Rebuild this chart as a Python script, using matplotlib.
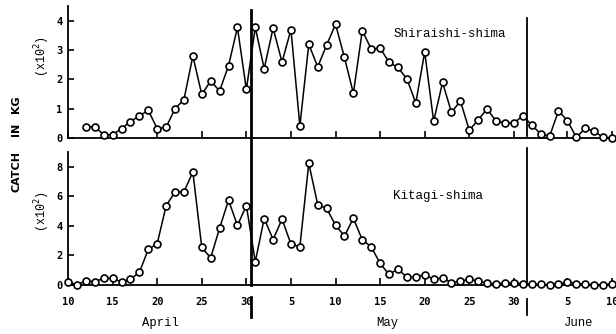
import matplotlib
matplotlib.use("Agg")
import matplotlib.pyplot as plt

# day number counted from April 10 (Apr 10 = 0, May 1 = 21, Jun 1 = 52)
top_days = list(range(2, 62))
bottom_days = list(range(0, 62))

# Shiraishi-shima catch (x100 kg), Apr 12 - Jun 10
shiraishi = [0.37, 0.40, 0.12, 0.12, 0.33, 0.57, 0.76, 0.95, 0.33, 0.37,
             1.01, 1.31, 2.80, 1.49, 1.95, 1.61, 2.47, 3.77, 1.66,
             3.77, 2.37, 3.75, 2.59, 3.70, 0.42, 3.20, 2.43, 3.17, 3.88,
             2.75, 1.53, 3.66, 3.04, 3.07, 2.58, 2.41, 2.02, 1.20, 2.94,
             0.58, 1.90, 0.88, 1.27, 0.27, 0.63, 1.00, 0.58, 0.53, 0.51, 0.77,
             0.45, 0.15, 0.07, 0.93, 0.60, 0.03, 0.34, 0.24, 0.03, 0.0]

# Kitagi-shima catch (x100 kg), Apr 10 - Jun 10
kitagi = [0.18, 0.0, 0.25, 0.20, 0.43, 0.43, 0.18, 0.38, 0.83, 2.39,
          2.77, 5.34, 6.28, 6.28, 7.64, 2.52, 1.82, 3.83, 5.72, 4.01, 5.36,
          1.55, 4.48, 3.06, 4.44, 2.75, 2.57, 8.22, 5.42, 5.16, 4.03,
          3.29, 4.50, 3.04, 2.57, 1.44, 0.70, 1.06, 0.50, 0.54, 0.68,
          0.36, 0.47, 0.14, 0.23, 0.38, 0.25, 0.09, 0.05, 0.11, 0.11, 0.07,
          0.02, 0.02, 0.0, 0.02, 0.20, 0.07, 0.05, 0.0, 0.0, 0.05]

tick_days = [0, 5, 10, 15, 20, 25, 30, 35, 40, 45, 50, 56, 61]
tick_labels = ["10", "15", "20", "25", "30", "5", "10", "15", "20", "25", "30", "5", "10"]
month_breaks = [20.5, 51.5]
months = ["April", "May", "June"]
month_x = [160, 387, 579]

mono = "Liberation Mono"
tickfont = "DejaVu Sans Mono"

fig = plt.figure(figsize=(6.16, 3.34), dpi=100)
ax1 = fig.add_axes([0.1104, 0.586, 0.8896, 0.396])
ax2 = fig.add_axes([0.1104, 0.1476, 0.8896, 0.398])

def style(ax, ymax, yticks, show_x):
	ax.set_xlim(0, 61.45)
	ax.set_ylim(0, ymax)
	for s in ["top", "right"]:
		ax.spines[s].set_visible(False)
	for s in ["left", "bottom"]:
		ax.spines[s].set_linewidth(1.3)
	ax.set_xticks(tick_days)
	ax.set_yticks(yticks)
	ax.set_yticklabels([str(v) for v in yticks], fontfamily=tickfont, fontweight="bold", fontsize=7.5)
	if show_x:
		ax.set_xticklabels(tick_labels, fontfamily=tickfont, fontweight="bold", fontsize=7.5)
	else:
		ax.set_xticklabels([])
	ax.tick_params(axis="x", direction="in", length=5, width=1.2, pad=9)
	ax.tick_params(axis="y", direction="in", length=4, width=1.2, pad=4)

style(ax1, 4.5, [0, 1, 2, 3, 4], False)
style(ax2, 9.0, [0, 2, 4, 6, 8], True)

mk = dict(color="black", lw=1.1, marker="o", markersize=5.0, markerfacecolor="white",
          markeredgecolor="black", markeredgewidth=1.2, clip_on=False, zorder=3)
ax1.plot(top_days, shiraishi, **mk)
ax2.plot(bottom_days, kitagi, **mk)

# month boundary lines
t1 = ax1.get_xaxis_transform()
t2 = ax2.get_xaxis_transform()
ax1.plot([month_breaks[0]] * 2, [-0.09, 0.97], transform=t1, color="black", lw=2, clip_on=False)
ax1.plot([month_breaks[1]] * 2, [0.02, 0.91], transform=t1, color="black", lw=1.3, clip_on=False)
ax2.plot([month_breaks[0]] * 2, [0.0, 1.0], transform=t2, color="black", lw=2, clip_on=False)
ax2.plot([month_breaks[0]] * 2, [-0.09, -0.24], transform=t2, color="black", lw=2, clip_on=False)
ax2.plot([month_breaks[1]] * 2, [0.0, 1.03], transform=t2, color="black", lw=1.3, clip_on=False)
ax2.plot([month_breaks[1]] * 2, [-0.11, -0.23], transform=t2, color="black", lw=1.3, clip_on=False)

ax1.text(0.697, 0.79, "Shiraishi-shima", transform=ax1.transAxes, ha="center", va="center",
         fontfamily=mono, fontsize=9)
ax2.text(0.675, 0.667, "Kitagi-shima", transform=ax2.transAxes, ha="center", va="center",
         fontfamily=mono, fontsize=9)

W, H = 616.0, 334.0
for name, x in zip(months, month_x):
	fig.text(x / W, 1 - 323 / H, name, ha="center", va="center", fontfamily=mono, fontsize=8.8)

# y axis labels
fig.text(42 / W, 1 - 57 / H, "(x10$^2$)", rotation=90, ha="center", va="center", fontfamily=mono, fontsize=8.5)
fig.text(42 / W, 1 - 212 / H, "(x10$^2$)", rotation=90, ha="center", va="center", fontfamily=mono, fontsize=8.5)
lab = dict(rotation=90, ha="center", va="center", fontfamily=["Liberation Sans Narrow", "DejaVu Sans"],
           fontweight="bold", fontsize=8)
fig.text(16 / W, 1 - 171 / H, "CATCH", **lab)
fig.text(16 / W, 1 - 129 / H, "IN", **lab)
fig.text(16 / W, 1 - 104 / H, "KG", **lab)

plt.savefig("out.png", dpi=100)
